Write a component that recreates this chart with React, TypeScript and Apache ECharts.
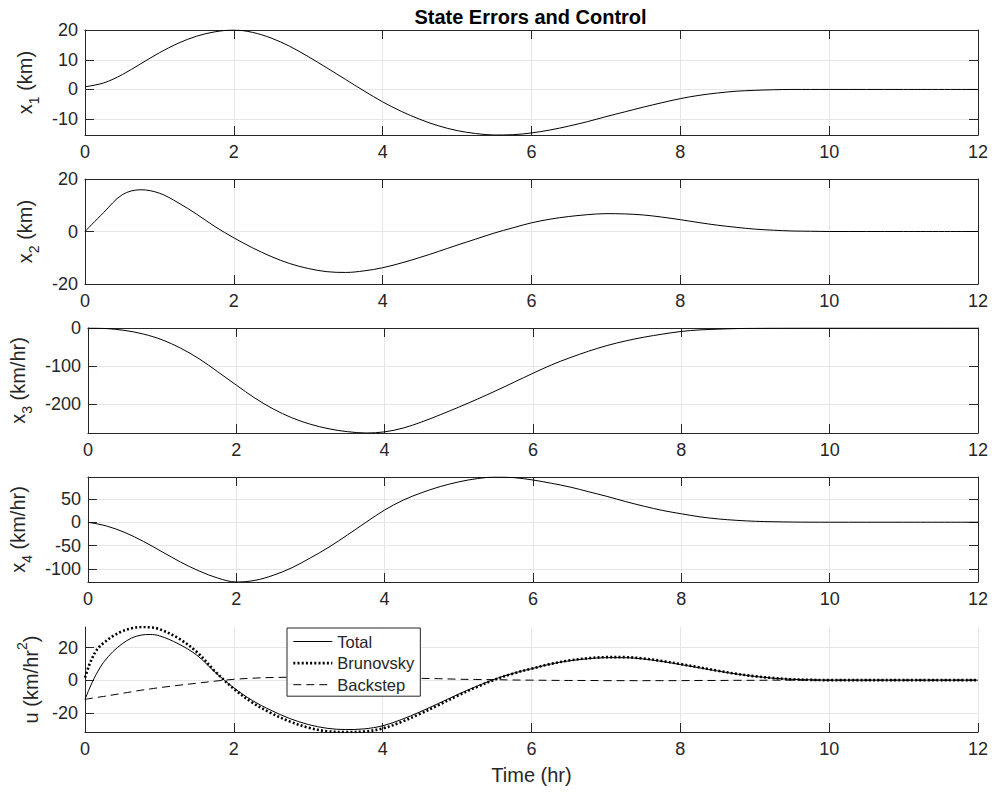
import React, { useEffect, useRef } from 'react';
import * as echarts from 'echarts';

// Simulation time (hr) for the four state-error traces
const timeHr = [
  0, 0.25, 0.5, 0.75, 1, 1.25, 1.5, 1.75, 2, 2.25, 2.5, 2.75, 3, 3.25, 3.5, 3.75,
  4, 4.25, 4.5, 4.75, 5, 5.25, 5.5, 5.75, 6, 6.25, 6.5, 6.75, 7, 7.25, 7.5, 7.75,
  8, 8.25, 8.5, 8.75, 9, 9.25, 9.5, 9.75, 10, 11, 12,
];

// State errors
const x1Km = [
  0.9, 2.2, 5.0, 8.7, 12.4, 15.6, 18.0, 19.5, 20.1, 19.3, 17.4, 14.6, 11.1, 7.3, 3.4, -0.5,
  -4.2, -7.4, -10.1, -12.3, -13.9, -14.9, -15.4, -15.3, -14.7, -13.7, -12.4, -10.9, -9.2, -7.6, -6.0, -4.5,
  -3.1, -2.0, -1.2, -0.6, -0.3, -0.1, 0, 0, 0, 0, 0,
];
const x2Km = [
  0, 7.2, 14.0, 15.9, 14.6, 11.0, 6.6, 1.8, -2.4, -6.2, -9.5, -12.2, -14.1, -15.3, -15.6, -15.0,
  -13.8, -12.0, -9.9, -7.6, -5.2, -2.9, -0.6, 1.4, 3.3, 4.7, 5.7, 6.4, 6.8, 6.7, 6.3, 5.5,
  4.5, 3.4, 2.4, 1.6, 0.9, 0.5, 0.2, 0.1, 0, 0, 0,
];
const x3KmHr = [
  0, -1.5, -6.5, -16, -31, -53, -81, -115, -150, -184, -213, -236, -253, -265, -272.5, -276,
  -273, -263, -247, -228, -208, -187, -165, -142, -119, -97, -78, -61, -46, -34, -24, -16,
  -9, -5, -3, -1.5, -0.7, -0.3, -0.1, 0, 0, 0, 0,
];
const x4KmHr = [
  0, -8, -22, -41, -63, -85, -104, -119, -127.4, -124, -113, -97, -76, -53, -27, 0,
  26, 47, 63, 76, 86, 93, 96.4, 95, 90, 83, 75, 65, 55, 44, 34, 25,
  18, 11.5, 7, 4, 2, 1, 0.4, 0.1, 0, 0, 0,
];

// Control history, sampled more finely at the start where it changes fastest
const timeU = [
  0, 0.05, 0.1, 0.15, 0.2, 0.25, 0.375, 0.5, 0.625, 0.75, 0.875, 1, 1.25, 1.5, 1.75, 2,
  2.25, 2.5, 2.75, 3, 3.25, 3.5, 3.75, 4, 4.25, 4.5, 4.75, 5, 5.25, 5.5, 5.75, 6,
  6.25, 6.5, 6.75, 7, 7.25, 7.5, 7.75, 8, 8.25, 8.5, 8.75, 9, 9.25, 9.5, 9.75, 10,
  11, 12,
];
const uTotal = [
  -11.8, -6.2, -1.0, 3.5, 7.5, 11.0, 17.5, 22.3, 25.8, 27.6, 28.0, 27.2, 22.4, 15.4, 4.8, -4.7,
  -12.5, -18.5, -23.5, -27.2, -29.5, -30.3, -29.9, -28.0, -24.2, -19.5, -14.3, -9.0, -4.0, 0.5, 4.2, 7.0,
  9.8, 11.8, 13.1, 13.8, 13.8, 13.0, 11.5, 9.6, 7.6, 5.6, 3.8, 2.3, 1.2, 0.5, 0.2, 0,
  0, 0,
];
const uBrunovsky = [
  1.5, 8.5, 13.8, 18.0, 20.8, 22.8, 27.0, 30.0, 31.8, 32.6, 32.4, 31.3, 25.8, 17.4, 5.3, -5.3,
  -13.8, -20.2, -25.3, -29.1, -31.3, -31.8, -31.5, -29.6, -25.7, -20.7, -15.3, -9.7, -4.5, 0.2, 4.0, 7.0,
  9.9, 12.0, 13.4, 14.1, 14.1, 13.3, 11.8, 9.9, 7.9, 5.8, 3.9, 2.4, 1.3, 0.5, 0.2, 0,
  0, 0,
];
const uBackstep = [
  -11.8, -11.4, -11.0, -10.7, -10.3, -10.0, -9.05, -8.1, -7.15, -6.2, -5.4, -4.6, -3.2, -1.9, -0.6, 0.5,
  1.2, 1.6, 1.8, 1.9, 1.9, 1.9, 1.8, 1.6, 1.4, 1.1, 0.9, 0.6, 0.4, 0.3, 0.1, 0,
  -0.1, -0.2, -0.2, -0.3, -0.3, -0.3, -0.3, -0.3, -0.2, -0.2, -0.1, -0.1, 0, 0, 0, 0,
  0, 0,
];

// Axis extents and tick labels
const timeTicks = [0, 2, 4, 6, 8, 10, 12];
const x1Range = [-15.4, 20.1];
const x1Ticks = [-10, 0, 10, 20];
const x2Range = [-20, 20];
const x2Ticks = [-20, 0, 20];
const x3Range = [-276, 0];
const x3Ticks = [-200, -100, 0];
const x4Range = [-127.4, 96.4];
const x4Ticks = [-100, -50, 0, 50];
const uRange = [-31.8, 32.6];
const uTicks = [-20, 0, 20];

const controlNames = ['Total', 'Brunovsky', 'Backstep'];

const FONT = "'Liberation Sans', Arial, Helvetica, sans-serif";
const INK = '#262626';
const GRID_GRAY = '#e6e6e6';
const PLOT_LEFT = 85;
const PLOT_WIDTH = 893;
const PLOT_HEIGHT = 105;
const PANEL_TOPS = [30, 179, 328, 477, 627];

const zip = (t: number[], v: number[]) => t.map((x, i) => [x, v[i]]);

const subRich = {
  v: { fontSize: 20, fontFamily: FONT, color: INK, lineHeight: 26, verticalAlign: 'top' },
  s: { fontSize: 14, fontFamily: FONT, color: INK, lineHeight: 12, verticalAlign: 'bottom' },
};
const supRich = {
  v: { fontSize: 20, fontFamily: FONT, color: INK, lineHeight: 26, verticalAlign: 'bottom' },
  p: { fontSize: 14, fontFamily: FONT, color: INK, lineHeight: 12, verticalAlign: 'top' },
};

type Trace = { name: string; t: number[]; v: number[]; lineStyle: any };
type Panel = {
  range: number[];
  ticks: number[];
  label: string;
  rich: any;
  nameGap: number;
  boxed: boolean;
  traces: Trace[];
};

const solid = { color: '#000', width: 1, type: 'solid' };

const panels: Panel[] = [
  {
    range: x1Range, ticks: x1Ticks, label: '{v|x}{s|1}{v| (km)}', rich: subRich, nameGap: 38.5, boxed: true,
    traces: [{ name: 'x1', t: timeHr, v: x1Km, lineStyle: solid }],
  },
  {
    range: x2Range, ticks: x2Ticks, label: '{v|x}{s|2}{v| (km)}', rich: subRich, nameGap: 38.5, boxed: true,
    traces: [{ name: 'x2', t: timeHr, v: x2Km, lineStyle: solid }],
  },
  {
    range: x3Range, ticks: x3Ticks, label: '{v|x}{s|3}{v| (km/hr)}', rich: subRich, nameGap: 48.7, boxed: true,
    traces: [{ name: 'x3', t: timeHr, v: x3KmHr, lineStyle: solid }],
  },
  {
    range: x4Range, ticks: x4Ticks, label: '{v|x}{s|4}{v| (km/hr)}', rich: subRich, nameGap: 48.7, boxed: true,
    traces: [{ name: 'x4', t: timeHr, v: x4KmHr, lineStyle: solid }],
  },
  {
    range: uRange, ticks: uTicks, label: '{v|u (km/hr}{p|2}{v|)}', rich: supRich, nameGap: 29.5, boxed: false,
    traces: [
      { name: controlNames[0], t: timeU, v: uTotal, lineStyle: solid },
      { name: controlNames[1], t: timeU, v: uBrunovsky, lineStyle: { color: '#000', width: 2.6, type: [2, 2.2] } },
      { name: controlNames[2], t: timeU, v: uBackstep, lineStyle: { color: '#000', width: 1, type: [8, 5] } },
    ],
  },
];

function buildOption() {
  const grid = panels.map((_, i) => ({
    left: PLOT_LEFT, top: PANEL_TOPS[i], width: PLOT_WIDTH, height: PLOT_HEIGHT, show: false,
  }));

  const tickStyle = { inside: true, length: 9, lineStyle: { color: INK, width: 1 } };
  const lineStyle = { show: true, onZero: false, lineStyle: { color: INK, width: 1 } };
  const labelStyle = { color: INK, fontSize: 18, fontFamily: FONT };

  const xAxis: any[] = [];
  const yAxis: any[] = [];

  panels.forEach((p, i) => {
    const last = i === panels.length - 1;
    xAxis.push({
      type: 'value', gridIndex: i, position: 'bottom', min: 0, max: 12, interval: 2,
      axisLine: lineStyle,
      axisTick: { ...tickStyle, customValues: timeTicks },
      axisLabel: { ...labelStyle, margin: 8, customValues: timeTicks },
      splitLine: { show: true, lineStyle: { color: GRID_GRAY, width: 1 } },
      name: last ? 'Time (hr)' : '',
      nameLocation: 'middle',
      nameGap: 32,
      nameTextStyle: { color: INK, fontSize: 20, fontFamily: FONT, lineHeight: 22 },
    });
    yAxis.push({
      type: 'value', gridIndex: i, position: 'left', min: p.range[0], max: p.range[1],
      axisLine: lineStyle,
      axisTick: { ...tickStyle, customValues: p.ticks },
      axisLabel: { ...labelStyle, margin: 7, customValues: p.ticks },
      splitLine: { show: true, lineStyle: { color: GRID_GRAY, width: 1 } },
      name: p.label,
      nameLocation: 'middle',
      nameRotate: 90,
      nameGap: p.nameGap,
      nameTextStyle: { rich: p.rich, fontFamily: FONT, color: INK },
    });
  });

  // Box outline with mirrored ticks on the top and right of the state panels
  panels.forEach((p, i) => {
    if (!p.boxed) return;
    xAxis.push({
      type: 'value', gridIndex: i, position: 'top', min: 0, max: 12, interval: 2,
      axisLine: lineStyle,
      axisTick: { ...tickStyle, customValues: timeTicks },
      axisLabel: { show: false },
      splitLine: { show: false },
    });
    yAxis.push({
      type: 'value', gridIndex: i, position: 'right', min: p.range[0], max: p.range[1],
      axisLine: lineStyle,
      axisTick: { ...tickStyle, customValues: p.ticks },
      axisLabel: { show: false },
      splitLine: { show: false },
    });
  });

  const series: any[] = [];
  panels.forEach((p, i) => {
    p.traces.forEach((tr) => {
      series.push({
        type: 'line',
        name: tr.name,
        xAxisIndex: i,
        yAxisIndex: i,
        data: zip(tr.t, tr.v),
        symbol: 'none',
        showSymbol: false,
        smooth: 0.35,
        silent: true,
        lineStyle: tr.lineStyle,
      });
    });
  });

  return {
    animation: false,
    backgroundColor: '#fff',
    title: {
      text: 'State Errors and Control',
      left: 530.5,
      top: 5,
      padding: 0,
      textAlign: 'center',
      textStyle: { fontSize: 20, fontWeight: 'bold', color: '#000', fontFamily: FONT, lineHeight: 23 },
    },
    legend: {
      data: controlNames,
      orient: 'vertical',
      left: 287,
      top: 628,
      padding: [5, 6, 3, 5],
      itemGap: 4.6,
      itemWidth: 39,
      itemHeight: 17,
      borderColor: INK,
      borderWidth: 1,
      borderRadius: 0,
      backgroundColor: '#fff',
      selectedMode: false,
      itemStyle: { opacity: 0 },
      lineStyle: { width: 'inherit', type: 'inherit', color: 'inherit' },
      textStyle: { fontSize: 16.5, color: INK, fontFamily: FONT, lineHeight: 17 },
    },
    grid,
    xAxis,
    yAxis,
    series,
  };
}

export default function App() {
  const ref = useRef<HTMLDivElement>(null);
  useEffect(() => {
    if (!ref.current) return;
    const chart = echarts.init(ref.current, null, { renderer: 'svg' });
    chart.setOption(buildOption() as any);
    return () => chart.dispose();
  }, []);
  return (
    <div
      ref={ref}
      style={{ position: 'absolute', left: 0, top: 0, width: 993, height: 792, background: '#fff' }}
    />
  );
}
